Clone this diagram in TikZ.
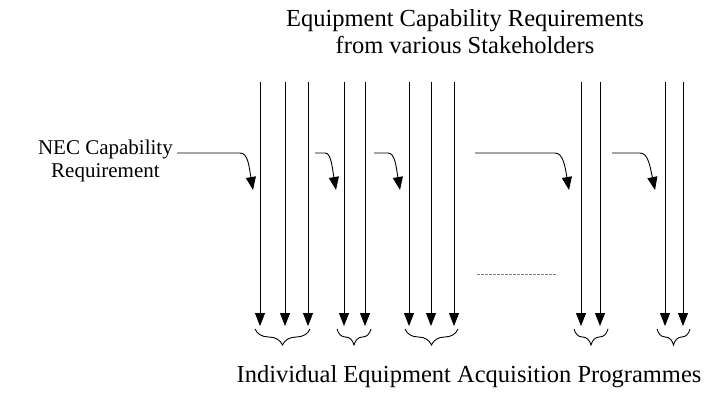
\documentclass[tikz,border=0pt]{standalone}
\usepackage{fontspec}
\setmainfont{Liberation Serif}
\usetikzlibrary{arrows.meta, decorations.pathreplacing}
\tikzstyle{textbox} = [
    align=center,
    inner sep=0pt,
    font=\fontsize{24.5}{27}\selectfont
]
\tikzstyle{arrow} = [line width=0.9pt,-{Triangle[length=13pt,width=10pt]}]
\tikzstyle{group} = [
    decorate,
    decoration={brace, mirror, amplitude=16pt},
    line width=0.9pt
]
\tikzstyle{gap} = [gray, line width=0.7pt, dash pattern=on 3pt off 1pt]

\begin{document}
\begin{tikzpicture}[x=1pt, y=-1pt]
\useasboundingbox (0,0) rectangle (708,393);

\node (stake) [textbox] at (465,32)
{Equipment Capability Requirements\\from various Stakeholders};

\node (nec) [textbox, anchor=east, font=\fontsize{21}{23}\selectfont] at (173,161)
{NEC Capability\\Requirement};

\node (progs) [textbox] at (469,377)
{Individual Equipment Acquisition Programmes};

% requirement lines from the stakeholders
\foreach \x [count=\i] in {260,285,308,344,365,409,431,454,581,600,665,683} {
    \coordinate (top\i) at (\x,82);
    \coordinate (end\i) at (\x,326);
    \draw [arrow] (top\i) -- (end\i);
}

% NEC requirement fed into each programme
\coordinate (in1) at (177,153);
\coordinate (tip1) at (253,190);
\draw [arrow] (in1) -- (240,153) .. controls (248,153) and (249,166) .. (tip1);

\coordinate (in2) at (315,153);
\coordinate (tip2) at (336,190);
\draw [arrow] (in2) -- (325,153) .. controls (331,153) and (332,166) .. (tip2);

\coordinate (in3) at (374,153);
\coordinate (tip3) at (400,190);
\draw [arrow] (in3) -- (388,153) .. controls (395,153) and (396,166) .. (tip3);

\coordinate (in4) at (475,153);
\coordinate (tip4) at (569,190);
\draw [arrow] (in4) -- (555,153) .. controls (563,153) and (565,166) .. (tip4);

\coordinate (in5) at (612,153);
\coordinate (tip5) at (655,190);
\draw [arrow] (in5) -- (640,153) .. controls (648,153) and (650,166) .. (tip5);

\coordinate (gapl) at (477,274);
\coordinate (gapr) at (556,274);
\draw [gap] (gapl) -- (gapr);

% programmes
\draw [group] (255,329) -- (310,329);
\draw [group] (337,329) -- (371,329);
\draw [group] (405,329) -- (458,329);
\draw [group] (574,329) -- (608,329);
\draw [group] (657,329) -- (690,329);

\end{tikzpicture}
\end{document}
